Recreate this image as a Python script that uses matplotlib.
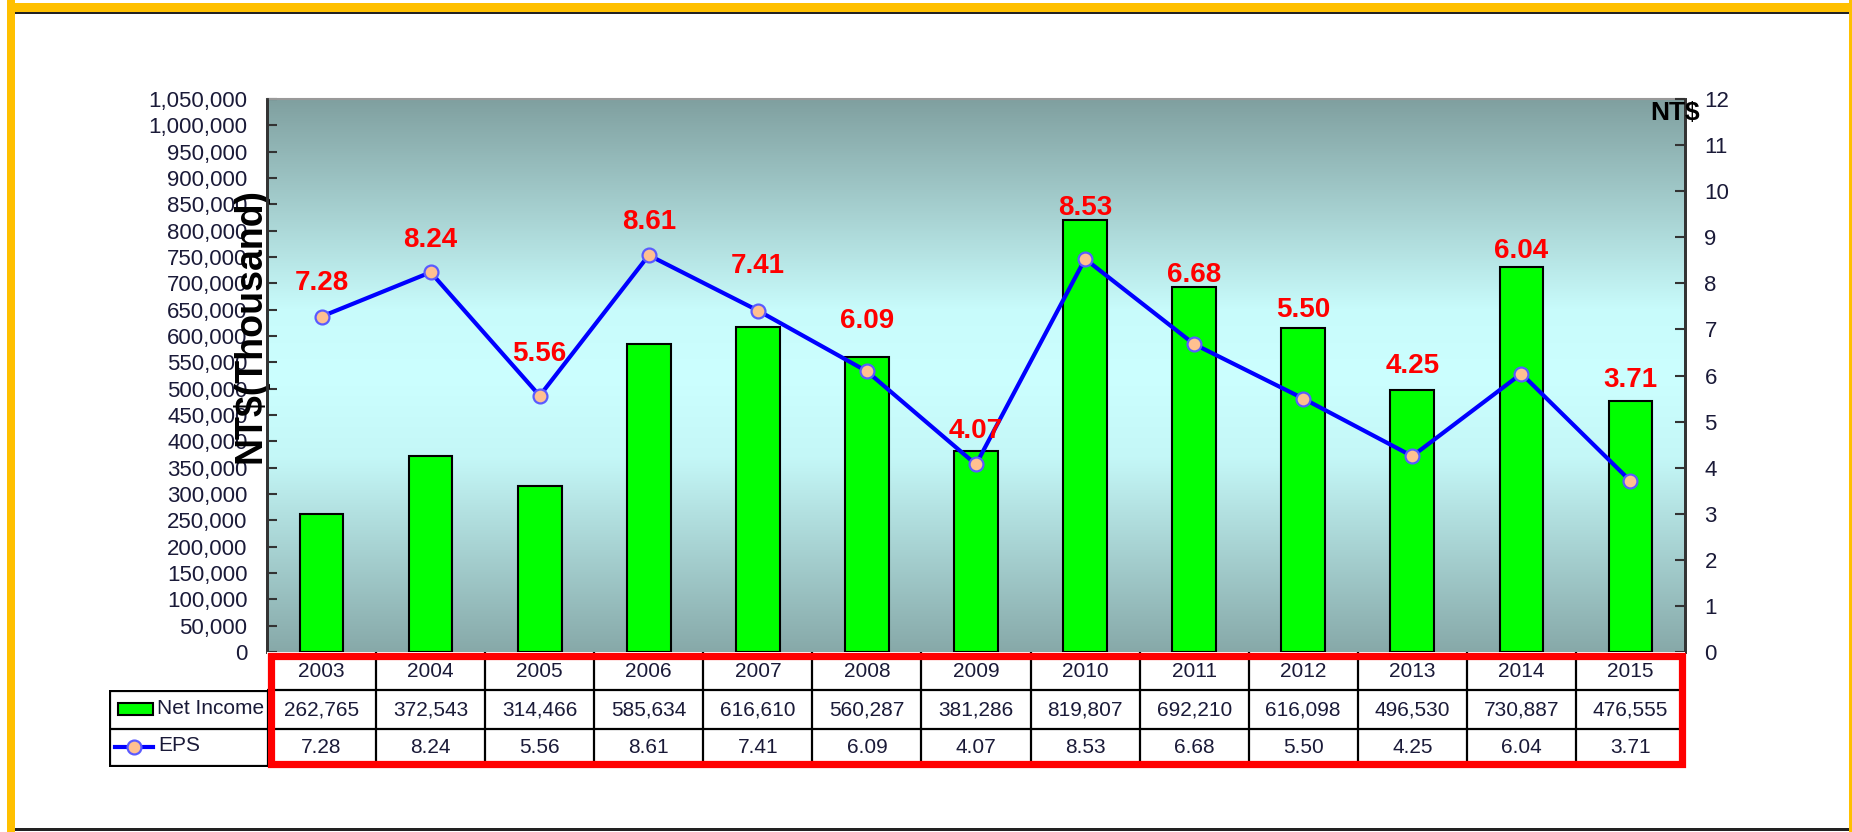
import numpy as np
import matplotlib
matplotlib.use("Agg")
import matplotlib.pyplot as plt
from matplotlib.colors import LinearSegmentedColormap
from matplotlib.patches import Rectangle
from matplotlib.lines import Line2D
from matplotlib.ticker import FuncFormatter, MultipleLocator

plt.rcParams['font.family'] = ['Liberation Sans', 'DejaVu Sans']

# ---- data ----
years = ['2003', '2004', '2005', '2006', '2007', '2008', '2009',
         '2010', '2011', '2012', '2013', '2014', '2015']
net_income = [262765, 372543, 314466, 585634, 616610, 560287, 381286,
              819807, 692210, 616098, 496530, 730887, 476555]
eps = [7.28, 8.24, 5.56, 8.61, 7.41, 6.09, 4.07,
       8.53, 6.68, 5.50, 4.25, 6.04, 3.71]

# vertical offset (points) of each EPS value label above its point
label_offsets = [24, 23, 30, 24, 32, 36, 24, 37, 50, 64, 65, 88, 73]

W, H = 1852, 832
TXT = '#1a1a38'

fig = plt.figure(figsize=(W / 100, H / 100), dpi=100)
fig.patch.set_facecolor('white')

def fx(px):
    return px / W

def fy(py):
    return 1 - py / H

# ---- outer frame ----
fig.add_artist(Rectangle((fx(7), fy(832)), fx(8), 832 / H, transform=fig.transFigure,
                         color='#ffc000', lw=0))
fig.add_artist(Rectangle((fx(7), fy(12)), fx(1845), 9 / H, transform=fig.transFigure,
                         color='#ffc000', lw=0))
fig.add_artist(Rectangle((fx(15), fy(14)), fx(1834), 2 / H, transform=fig.transFigure,
                         color='#222222', lw=0))
fig.add_artist(Rectangle((fx(1849), fy(832)), fx(3), 832 / H, transform=fig.transFigure,
                         color='#ffc000', lw=0))
fig.add_artist(Rectangle((fx(15), fy(831)), fx(1834), 3 / H, transform=fig.transFigure,
                         color='#222222', lw=0))

# ---- main chart ----
L, R, T, B = 267, 1685, 99, 652
ax = fig.add_axes([fx(L), fy(B), fx(R - L), (B - T) / H])
x = np.arange(len(years))

grad = LinearSegmentedColormap.from_list(
    'bg', [(0.0, '#87a9a9'), (0.35, '#c4f7f7'), (0.5, '#ccffff'),
           (0.62, '#c8fbfb'), (1.0, '#80a0a0')])
ax.imshow(np.linspace(0, 1, 256).reshape(-1, 1), cmap=grad, aspect='auto',
          origin='lower', extent=[0, 1, 0, 1], transform=ax.transAxes, zorder=0)

ax.bar(x, net_income, width=0.4, color='#00ff00', edgecolor='black',
       linewidth=1.5, zorder=2)
ax.set_xlim(-0.5, len(years) - 0.5)
ax.set_ylim(0, 1050000)
ax.yaxis.set_major_locator(MultipleLocator(50000))
ax.yaxis.set_major_formatter(FuncFormatter(lambda v, p: f'{int(v):,}'))
ax.set_xticks([])
ax.tick_params(axis='y', direction='in', length=7, width=1.5, pad=14,
               labelsize=16, labelcolor=TXT, color='#333333')
for s in ['left', 'right']:
    ax.spines[s].set_color('#333333')
    ax.spines[s].set_linewidth(2)
ax.spines['top'].set_color('#999999')
ax.spines['top'].set_linewidth(1.5)
ax.spines['bottom'].set_visible(False)

ax.text(-0.012, 0.59, 'NT$(Thousand)', transform=ax.transAxes, rotation=90,
        ha='center', va='center', fontsize=27, fontweight='bold', color='black',
        zorder=5, clip_on=False)

ax2 = ax.twinx()
ax2.plot(x, eps, color='#0000ff', lw=3, marker='o', markersize=10,
         markerfacecolor='#ffc090', markeredgecolor='#5a5aff',
         markeredgewidth=1.6, zorder=3)
ax2.set_ylim(0, 12)
ax2.yaxis.set_major_locator(MultipleLocator(1))
ax2.tick_params(axis='y', direction='in', length=7, width=1.5, pad=14,
                labelsize=16, labelcolor=TXT, color='#333333')
for s in ['left', 'right']:
    ax2.spines[s].set_color('#333333')
    ax2.spines[s].set_linewidth(2)
ax2.spines['top'].set_visible(False)
ax2.spines['bottom'].set_visible(False)

for xi, e, off in zip(x, eps, label_offsets):
    ax2.annotate(f'{e:.2f}', (xi, e), xytext=(0, off), textcoords='offset points',
                 ha='center', va='center', fontsize=20, fontweight='bold',
                 color='#ff0000', zorder=6)

ax2.text(0.993, 0.975, 'NT$', transform=ax2.transAxes, ha='center', va='center',
         fontsize=19, fontweight='bold', color='black', zorder=6, clip_on=False)

# ---- data table below the chart ----
TB = 767
tax = fig.add_axes([fx(L), fy(TB), fx(R - L), (TB - B) / H])
tax.set_xlim(-0.5, len(years) - 0.5)
tax.set_ylim(0, 3)
tax.axis('off')
tax.add_patch(Rectangle((-0.5, 0), len(years), 3, facecolor='white', lw=0, zorder=0))
for k in range(1, len(years)):
    tax.plot([k - 0.5, k - 0.5], [0, 3], color='black', lw=1.6, zorder=1)
for r in (1, 2):
    tax.plot([-0.5, len(years) - 0.5], [r, r], color='black', lw=1.6, zorder=1)
rows = [years, [f'{v:,}' for v in net_income], [f'{v:.2f}' for v in eps]]
for r, vals in enumerate(rows):
    for xi, s in zip(x, vals):
        tax.text(xi, 2.5 - r, s, ha='center', va='center', fontsize=15, color=TXT,
                 zorder=3)
inset_x = 3.5 / (R - L)
inset_y = 3.5 / (TB - B)
tax.add_patch(Rectangle((inset_x, inset_y), 1 - 2 * inset_x, 1 - 2 * inset_y,
                        transform=tax.transAxes, fill=False, edgecolor='#ff0000',
                        lw=5.2, zorder=4, clip_on=False))

# ---- legend cells left of the table ----
LL = 109
lax = fig.add_axes([fx(LL), fy(TB), fx(L + 1 - LL), (TB - 690) / H])
lax.set_xlim(LL, L + 1)
lax.set_ylim(TB, 690)
lax.axis('off')
lax.add_patch(Rectangle((LL + 1, 691), L - LL, TB - 692, fill=False,
                        edgecolor='black', lw=1.6))
lax.plot([LL, L], [729, 729], color='black', lw=1.6)
lax.add_patch(Rectangle((118, 703), 35, 12, facecolor='#00ff00',
                        edgecolor='black', lw=1.5))
lax.text(157, 709, 'Net Income', ha='left', va='center', fontsize=15, color=TXT)
lax.add_line(Line2D([115, 153], [747, 747], color='#0000ff', lw=3))
lax.plot([134], [747], marker='o', markersize=10, markerfacecolor='#ffc090',
         markeredgecolor='#5a5aff', markeredgewidth=1.6)
lax.text(158, 746, 'EPS', ha='left', va='center', fontsize=15, color=TXT)

fig.savefig('out.png', dpi=100)
